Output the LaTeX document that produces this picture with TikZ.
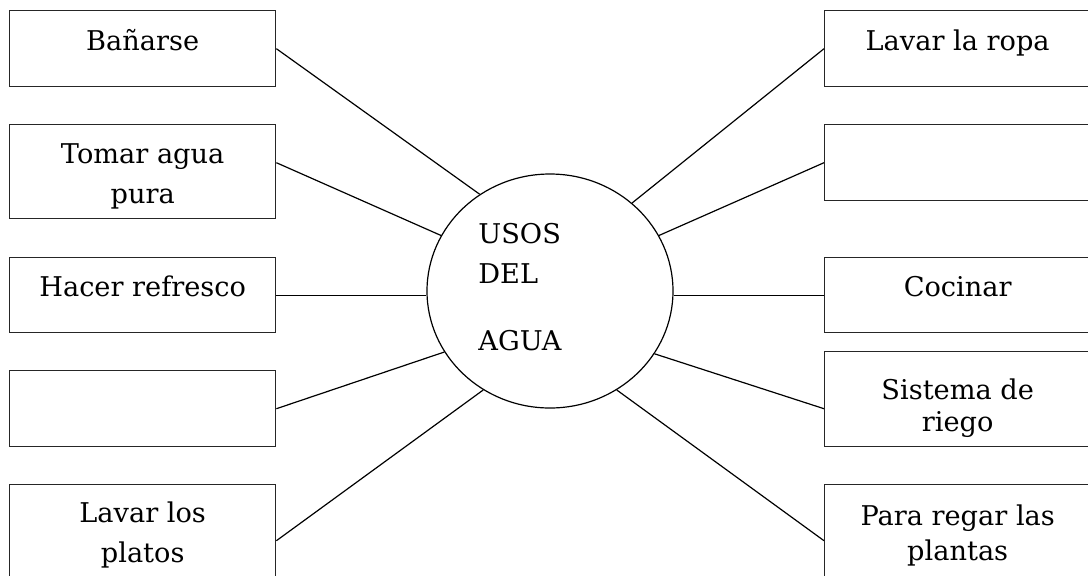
\documentclass[tikz,border=0pt]{standalone}
\usepackage{fontspec}
\setmainfont{DejaVu Serif}
\usetikzlibrary{shapes.geometric}

\begin{document}
\begin{tikzpicture}[
    x=0.5pt, y=-0.5pt,
    usobox/.style={rectangle, draw=black!85, line width=0.7pt, minimum width=133pt, inner sep=0pt, align=center, font=\fontsize{13.6}{20}\selectfont, text height=20pt, text depth=18pt},
    centro/.style={ellipse, draw, line width=0.6pt, minimum width=123pt, minimum height=117pt, inner sep=0pt},
    conector/.style={line width=0.6pt}
]
\clip (0,0) rectangle (1088,575);

% left column
\node[usobox, anchor=north west] (banar) at (9,10) {Bañarse};
\node[usobox, anchor=north west, text height=39.5pt, text depth=7.5pt] (tomar) at (9,124) {Tomar agua\\pura};
\node[usobox, anchor=north west, text height=19.5pt] (refresco) at (9,257) {Hacer refresco};
\node[usobox, anchor=north west] (vacioa) at (9,370) {};
\node[usobox, anchor=north west, text height=39pt, text depth=17pt] (platos) at (9,484) {Lavar los\\platos};

% right column
\node[usobox, anchor=north west] (ropa) at (824,10) {Lavar la ropa};
\node[usobox, anchor=north west] (vaciob) at (824,124) {};
\node[usobox, anchor=north west, text height=19.5pt] (cocinar) at (824,257) {Cocinar};
\node[usobox, anchor=north west, text height=40pt, text depth=7.5pt, font=\fontsize{13.6}{16}\selectfont] (riego) at (824,351) {Sistema de\\riego};
\node[usobox, anchor=north west, text height=38pt, text depth=18pt, font=\fontsize{13.6}{17.5}\selectfont] (plantas) at (824,484) {Para regar las\\plantas};

% centre
\node[centro] (usos) at (550,291) {};
\node[font=\fontsize{13.6}{20}\selectfont, align=left, inner sep=0pt, anchor=base west] (usostxt) at (478,350) {USOS\\DEL\\[13.5pt]AGUA};

\draw[conector] (banar.east) -- (usos.126);
\draw[conector] ([yshift=4.5pt]tomar.east) -- (usos.153);
\draw[conector] (refresco.east) -- (refresco.east -| usos.west);
\draw[conector] (vacioa.east) -- (usos.210);
\draw[conector] (platos.east) -- (usos.236);

\draw[conector] (ropa.west) -- (usos.47);
\draw[conector] (vaciob.west) -- (usos.27);
\draw[conector] (cocinar.west) -- (cocinar.west -| usos.east);
\draw[conector] ([yshift=-4.75pt]riego.west) -- (usos.329);
\draw[conector] (plantas.west) -- (usos.304);

\end{tikzpicture}
\end{document}
